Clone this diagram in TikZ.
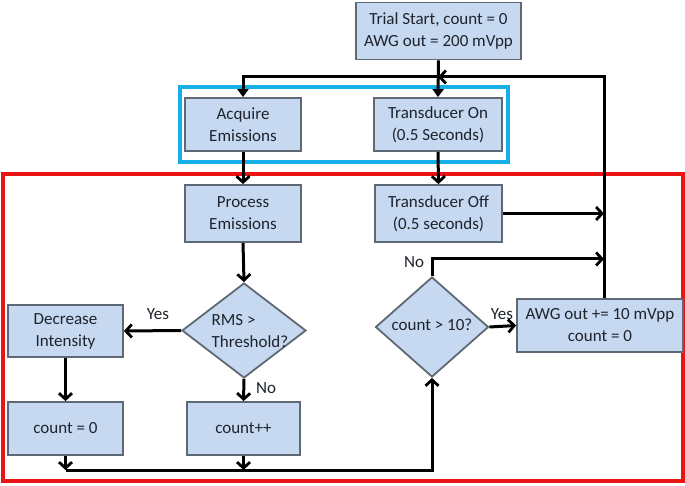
\documentclass[tikz,border=0pt]{standalone}
\usepackage{fontspec}
\setmainfont{Carlito}
\usetikzlibrary{shapes.geometric,arrows.meta}
\definecolor{boxfill}{RGB}{198,217,241}
\definecolor{boxline}{RGB}{95,105,115}
\definecolor{frameblue}{RGB}{20,175,230}
\definecolor{framered}{RGB}{235,20,20}
\definecolor{txt}{RGB}{30,35,45}
\begin{document}
\begin{tikzpicture}[x=1pt,y=-1pt,
  font=\fontsize{17}{22}\selectfont,
  fbox/.style={draw=boxline,fill=boxfill,line width=1.8pt,rectangle,inner sep=0pt,align=center,text=txt},
  dec/.style={draw=boxline,fill=boxfill,line width=1.8pt,diamond,inner sep=0pt},
  arr/.style={line width=3pt,-{Straight Barb[length=6pt,width=13pt,line width=2.8pt]}},
  arrt/.style={line width=3pt,-{Triangle[length=8pt,width=11pt]}},
  lbl/.style={text=txt}]
\useasboundingbox (0,0) rectangle (685,486);
\fill[white] (0,0) rectangle (685,486);
% frames
\draw[frameblue,line width=3.2pt] (180,87) rectangle (508,162);
\draw[framered,line width=3.2pt] (3,174) rectangle (683,481);
% nodes
\node[fbox,minimum width=165pt,minimum height=57pt] (trial) at (438.5,31) {Trial Start, count = 0\\AWG out = 200 mVpp};
\node[fbox,minimum width=116pt,minimum height=53pt] (acq) at (243,124.5) {Acquire\\Emissions};
\node[fbox,minimum width=128pt,minimum height=53pt] (ton) at (438,124.5) {Transducer On\\(0.5 Seconds)};
\node[fbox,minimum width=116pt,minimum height=57pt] (proc) at (243,213.5) {Process\\Emissions};
\node[fbox,minimum width=127pt,minimum height=57pt] (toff) at (438.5,213.5) {Transducer Off\\(0.5 seconds)};
\node[dec,minimum width=124pt,minimum height=95pt] (rms) at (244,330.5) {};
\node[lbl,align=left] (rmst) at (250,331) {RMS >\\Threshold?};
\node[dec,minimum width=113pt,minimum height=100pt] (c10) at (432,327) {};
\node[lbl] (c10t) at (432,325) {count > 10?};
\node[fbox,minimum width=166pt,minimum height=53pt] (awg) at (600,325.5) {AWG out += 10 mVpp\\count = 0};
\node[fbox,minimum width=115pt,minimum height=52pt] (decr) at (65.5,331) {Decrease\\Intensity};
\node[fbox,minimum width=115pt,minimum height=53pt] (c0) at (65.5,428.5) {count = 0};
\node[fbox,minimum width=113pt,minimum height=53pt] (cpp) at (243.5,428.5) {count++};
% coordinates
\coordinate (j1) at (438,77);
\coordinate (rx) at (604,77);
\coordinate (nocorner) at (432,259);
\coordinate (bot) at (432,470);
\coordinate (bl) at (65.5,470);
\coordinate (bm) at (243.5,470);
% connectors
\draw[arrt] (trial.south) -- (ton.north);
\draw[arrt] (j1) -| (acq.north);
\draw[arr] (awg.north -| rx) -- (rx) -- (j1);
\draw[arr] (acq.south) -- (proc.north);
\draw[arr] (ton.south) -- (toff.north);
\draw[arr] (toff.east) -- (toff.east -| rx);
\draw[arr] (c10.north) -- (nocorner) -- (nocorner -| rx);
\draw[arr] (c10.east) -- (awg.west);
\draw[arr] (proc.south) -- (rms.north);
\draw[arr] (rms.west) -- (decr.east);
\draw[arr] (rms.south) -- (cpp.north);
\draw[arr] (decr.south) -- (c0.north);
\draw[arr] (c0.south) -- (bl);
\draw[arr] (cpp.south) -- (bm);
\draw[arr] (bl) -- (bot) -- (c10.south);
% labels
\node[lbl] (ly1) at (158,314) {Yes};
\node[lbl] (ly2) at (502,314) {Yes};
\node[lbl] (ln1) at (266,388) {No};
\node[lbl] (ln2) at (414,262) {No};
\end{tikzpicture}
\end{document}
